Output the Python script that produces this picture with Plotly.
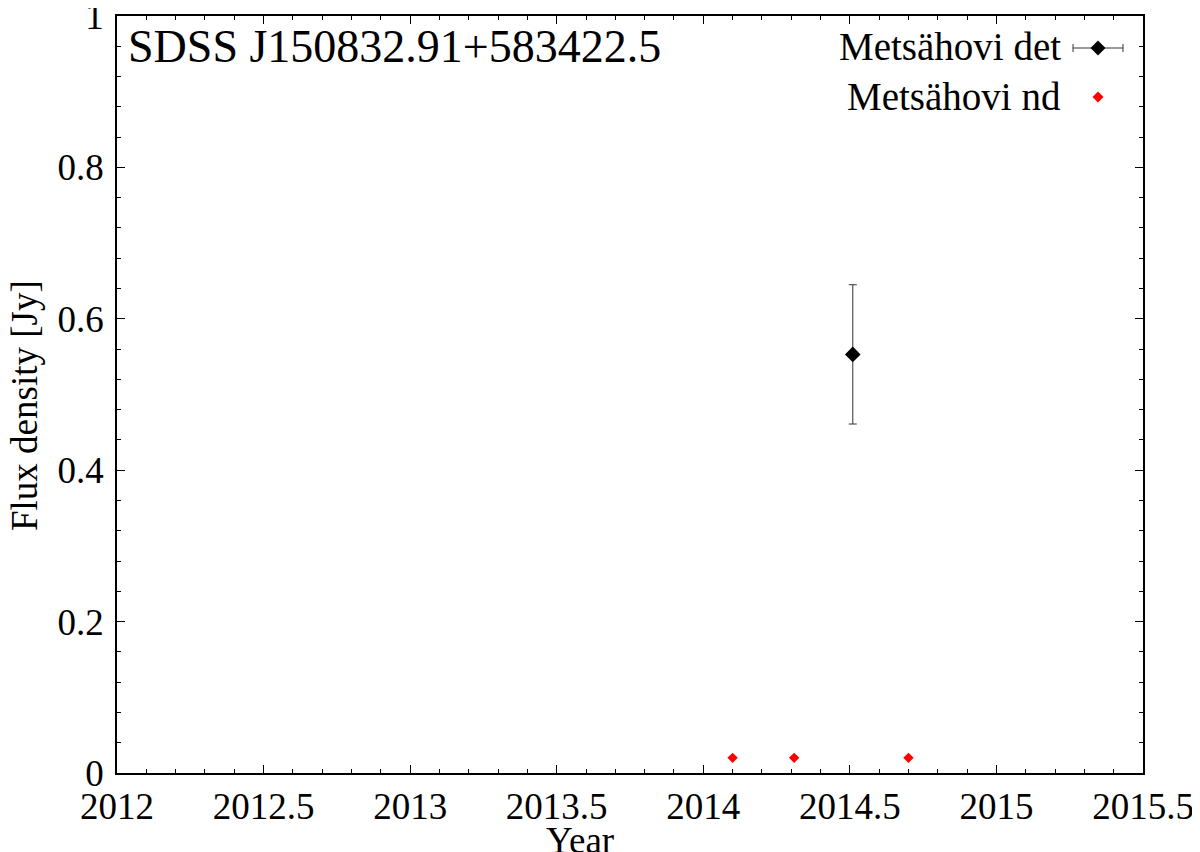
import plotly.graph_objects as go

# detections (Metsähovi det)
det_year = [2014.51]
det_flux = [0.553]
det_err = [0.092]

# non-detections (Metsähovi nd)
nd_year = [2014.10, 2014.31, 2014.70]
nd_flux = [0.02, 0.02, 0.02]

x_ticks = [2012, 2012.5, 2013, 2013.5, 2014, 2014.5, 2015, 2015.5]
x_labels = ["2012", "2012.5", "2013", "2013.5", "2014", "2014.5", "2015", "2015.5"]
y_ticks = [0, 0.2, 0.4, 0.6, 0.8, 1]
y_labels = ["0", "0.2", "0.4", "0.6", "0.8", "1"]

FONT = "Liberation Serif, Times New Roman, Times, DejaVu Serif, serif"

fig = go.Figure()
fig.add_trace(go.Scatter(
    x=det_year, y=det_flux, mode="markers", name="Metsähovi det",
    error_y=dict(type="data", array=det_err, color="#333333", thickness=1, width=4),
    marker=dict(symbol="diamond", size=12, color="black"),
))
fig.add_trace(go.Scatter(
    x=nd_year, y=nd_flux, mode="markers", name="Metsähovi nd",
    marker=dict(symbol="diamond", size=8, color="red"),
))

axis_common = dict(
    showgrid=False, zeroline=False, showline=True, linecolor="black",
    linewidth=1.6, mirror="ticks", ticks="inside", ticklen=8,
    tickwidth=1.2, tickcolor="black", ticklabeloverflow="allow",
    automargin=False,
    tickfont=dict(family=FONT, size=37, color="black"),
)
fig.update_xaxes(
    range=[2012, 2015.5], tickvals=x_ticks, ticktext=x_labels,
    minor=dict(dtick=0.1, ticks="inside", ticklen=4, tickcolor="black", tickwidth=1.2),
    **axis_common,
)
fig.update_yaxes(
    range=[0, 1], tickvals=y_ticks, ticktext=y_labels, ticklabelstandoff=4,
    minor=dict(dtick=0.04, ticks="inside", ticklen=4, tickcolor="black", tickwidth=1.2),
    **axis_common,
)

# page has an 8px body margin, so the figure is offset by that much
OFF = 8
W, H = 1200, 852
L, R, T, B = 117, 57, 16, 79  # plot box in page pixels
pw, ph = W - L - R, H - T - B


def px(xp):
    return (xp - L) / pw


def py(yp):
    return (H - B - yp) / ph


annotations = [
    dict(text="SDSS J150832.91+583422.5", x=px(126), y=py(47), xanchor="left",
         yanchor="middle", font=dict(size=46)),
    dict(text="Metsähovi det", x=px(1063), y=py(47), xanchor="right",
         yanchor="middle", font=dict(size=39)),
    dict(text="Metsähovi nd", x=px(1063), y=py(96), xanchor="right",
         yanchor="middle", font=dict(size=39)),
    dict(text="Year", x=px(580), y=py(840), xanchor="center",
         yanchor="middle", font=dict(size=37)),
    dict(text="Flux density [Jy]", x=px(24), y=py(406), xanchor="center",
         yanchor="middle", textangle=-90, font=dict(size=37)),
]
for a in annotations:
    a.update(xref="paper", yref="paper", showarrow=False)
    a["font"].update(family=FONT, color="black")

# legend keys drawn as pixel-sized shapes
kx, ky1, ky2 = px(1098), py(48), py(97)
key = dict(xref="paper", yref="paper", xsizemode="pixel", ysizemode="pixel")
shapes = [
    dict(type="line", xanchor=kx, yanchor=ky1, x0=-25, x1=25, y0=0, y1=0,
         line=dict(color="#333333", width=1), **key),
    dict(type="line", xanchor=kx, yanchor=ky1, x0=-25, x1=-25, y0=-4, y1=4,
         line=dict(color="#333333", width=1), **key),
    dict(type="line", xanchor=kx, yanchor=ky1, x0=25, x1=25, y0=-4, y1=4,
         line=dict(color="#333333", width=1), **key),
    dict(type="path", xanchor=kx, yanchor=ky1, path="M -7.5 0 L 0 7.5 L 7.5 0 L 0 -7.5 Z",
         fillcolor="black", line=dict(width=0), **key),
    dict(type="path", xanchor=kx, yanchor=ky2, path="M -5.5 0 L 0 5.5 L 5.5 0 L 0 -5.5 Z",
         fillcolor="red", line=dict(width=0), **key),
]

fig.update_layout(
    width=W, height=H,
    margin=dict(l=L - OFF, r=R + OFF, t=T - OFF, b=B + OFF),
    paper_bgcolor="white", plot_bgcolor="white",
    showlegend=False,
    annotations=annotations,
    shapes=shapes,
    font=dict(family=FONT, color="black"),
)

fig.write_html("out.html")
